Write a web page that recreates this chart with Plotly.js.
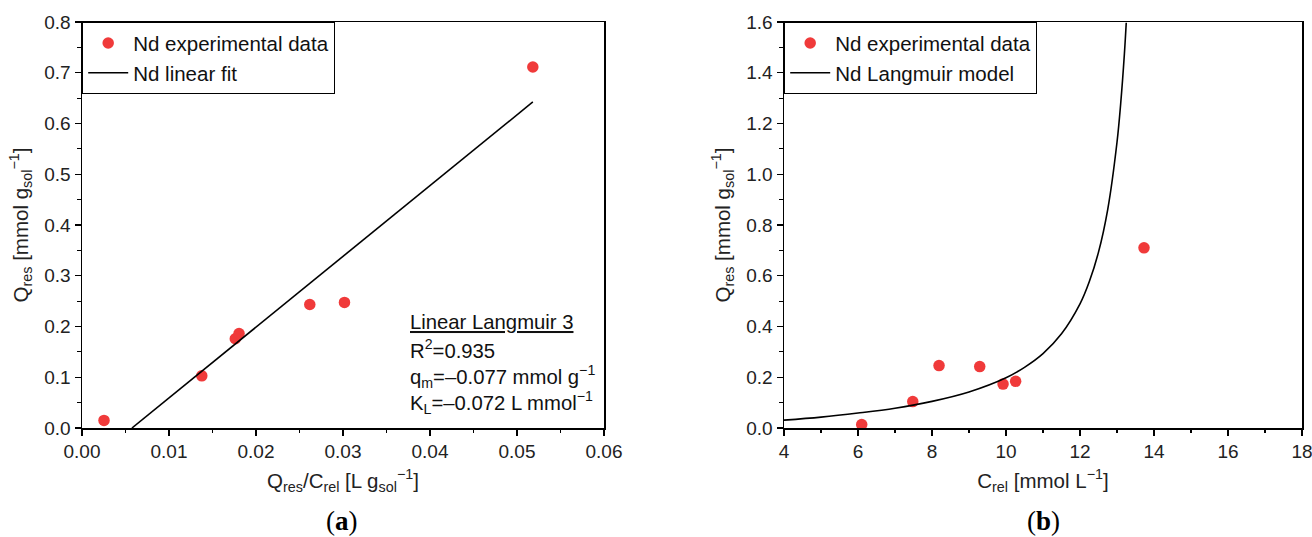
<!DOCTYPE html>
<html>
<head>
<meta charset="utf-8">
<script src="https://cdn.plot.ly/plotly-3.0.1.min.js"></script>
<style>html,body{margin:0;padding:0;background:#fff;}#chart{width:1312px;height:537px;}</style>
</head>
<body>
<div id="chart"></div>
<script>
// Panel (a): linearised Langmuir
var linX = [0.00253, 0.01377, 0.01762, 0.01805, 0.02618, 0.03017, 0.05182];
var linY = [0.0149, 0.1028, 0.1758, 0.1860, 0.2434, 0.2475, 0.7114];
var fitX = [0.00574, 0.05182];
var fitY = [0.0, 0.6424];

// Panel (b): Langmuir isotherm
var cRel = [6.10, 7.48, 8.19, 9.29, 9.92, 10.26, 13.73];
var qRes = [0.0135, 0.104, 0.246, 0.242, 0.173, 0.184, 0.710];
var modelC = [4.0, 5.0, 6.0, 7.0, 8.0, 9.0, 10.0, 10.5, 11.0, 11.5, 12.0, 12.25, 12.5, 12.75, 13.0, 13.1, 13.2, 13.25];
var modelQ = [0.031, 0.043, 0.059, 0.078, 0.105, 0.142, 0.198, 0.239, 0.293, 0.371, 0.489, 0.576, 0.693, 0.862, 1.126, 1.279, 1.475, 1.597];

var fitLabels = ['Linear Langmuir 3', 'R<sup>2</sup>=0.935', 'q<sub>m</sub>=\u20130.077 mmol g<sup>\u22121</sup>', 'K<sub>L</sub>=\u20130.072 L mmol<sup>\u22121</sup>'];

var red = '#f03a3a';
var font = 'Liberation Sans, Arial, sans-serif';

var traces = [
  {x: linX, y: linY, type: 'scatter', mode: 'markers', name: 'Nd experimental data',
   marker: {color: red, size: 11.5}, xaxis: 'x', yaxis: 'y', legend: 'legend'},
  {x: fitX, y: fitY, type: 'scatter', mode: 'lines', name: 'Nd linear fit',
   line: {color: '#000', width: 1.6}, xaxis: 'x', yaxis: 'y', legend: 'legend'},
  {x: cRel, y: qRes, type: 'scatter', mode: 'markers', name: 'Nd experimental data',
   marker: {color: red, size: 11.5}, xaxis: 'x2', yaxis: 'y2', legend: 'legend2'},
  {x: modelC, y: modelQ, type: 'scatter', mode: 'lines', name: 'Nd Langmuir model',
   line: {color: '#000', width: 1.6, shape: 'spline'}, xaxis: 'x2', yaxis: 'y2', legend: 'legend2'}
];

function ax(extra) {
  var base = {
    showline: true, linecolor: '#000', linewidth: 1.5, mirror: true,
    ticks: 'outside', ticklen: 6, tickwidth: 1.2, tickcolor: '#000',
    showgrid: false, zeroline: false, fixedrange: true,
    ticklabeloverflow: 'allow',
    tickfont: {family: font, size: 19, color: '#222'}
  };
  for (var k in extra) base[k] = extra[k];
  return base;
}

var L = 82, R = 10, T = 22, B = 109;
var W = 1312 - L - R;
var H = 537 - T - B;
function dx(px) { return (px - L) / W; }
function dy(py) { return 1 - (py - T) / H; }

var titleFont = {family: font, size: 20.5, color: '#222'};

var legendCommon = {
  font: {family: font, size: 20.5, color: '#111'},
  bgcolor: '#fff', bordercolor: '#000', borderwidth: 1.2,
  xanchor: 'left', yanchor: 'top', y: 1, yref: 'paper', xref: 'paper',
  tracegroupgap: 0, itemwidth: 40
};
var leg1 = Object.assign({}, legendCommon, {x: 0});
var leg2 = Object.assign({}, legendCommon, {x: dx(784)});

var annotations = [];
var lineYs = [322, 349, 376, 402];
for (var i = 0; i < fitLabels.length; i++) {
  annotations.push({
    text: i === 0 ? '<u>' + fitLabels[i] + '</u>' : fitLabels[i],
    xref: 'paper', yref: 'paper', x: dx(408), y: dy(lineYs[i]),
    xanchor: 'left', yanchor: 'middle', showarrow: false, align: 'left',
    font: {family: font, size: 20.3, color: '#111'}
  });
}
annotations.push({text: '(<b>a</b>)', xref: 'paper', yref: 'paper', x: dx(342), y: dy(521),
  xanchor: 'center', yanchor: 'middle', showarrow: false, font: {family: 'Liberation Serif, serif', size: 27, color: '#000'}});
annotations.push({text: '(<b>b</b>)', xref: 'paper', yref: 'paper', x: dx(1043), y: dy(521),
  xanchor: 'center', yanchor: 'middle', showarrow: false, font: {family: 'Liberation Serif, serif', size: 27, color: '#000'}});

var layout = {
  width: 1312, height: 537,
  margin: {l: L, r: R, t: T, b: B},
  paper_bgcolor: '#fff', plot_bgcolor: '#fff',
  showlegend: true,
  legend: leg1, legend2: leg2,
  xaxis: ax({domain: [0, dx(604)], range: [0, 0.06], dtick: 0.01, tick0: 0, tickformat: '.2f', anchor: 'y',
    minor: {ticks: 'outside', ticklen: 3.5, dtick: 0.005, tickcolor: '#000'},
    title: {text: 'Q<sub>res</sub>/C<sub>rel</sub> [L g<sub>sol</sub><sup>\u22121</sup>]', standoff: 12, font: titleFont}}),
  yaxis: ax({domain: [0, 1], range: [0, 0.8], dtick: 0.1, tick0: 0, tickformat: '.1f', anchor: 'x',
    minor: {ticks: 'outside', ticklen: 3.5, dtick: 0.05, tickcolor: '#000'},
    title: {text: 'Q<sub>res</sub> [mmol g<sub>sol</sub><sup>\u22121</sup>]', standoff: 10, font: titleFont}}),
  xaxis2: ax({domain: [dx(784), dx(1302)], range: [4, 18], dtick: 2, tick0: 0, anchor: 'y2',
    minor: {ticks: 'outside', ticklen: 3.5, dtick: 1, tickcolor: '#000'},
    title: {text: 'C<sub>rel</sub> [mmol L<sup>\u22121</sup>]', standoff: 12, font: titleFont}}),
  yaxis2: ax({domain: [0, 1], range: [0, 1.6], dtick: 0.2, tick0: 0, tickformat: '.1f', anchor: 'x2',
    minor: {ticks: 'outside', ticklen: 3.5, dtick: 0.1, tickcolor: '#000'},
    title: {text: 'Q<sub>res</sub> [mmol g<sub>sol</sub><sup>\u22121</sup>]', standoff: 10, font: titleFont}}),
  annotations: annotations
};

Plotly.newPlot('chart', traces, layout, {displayModeBar: false, staticPlot: true});
</script>
</body>
</html>
